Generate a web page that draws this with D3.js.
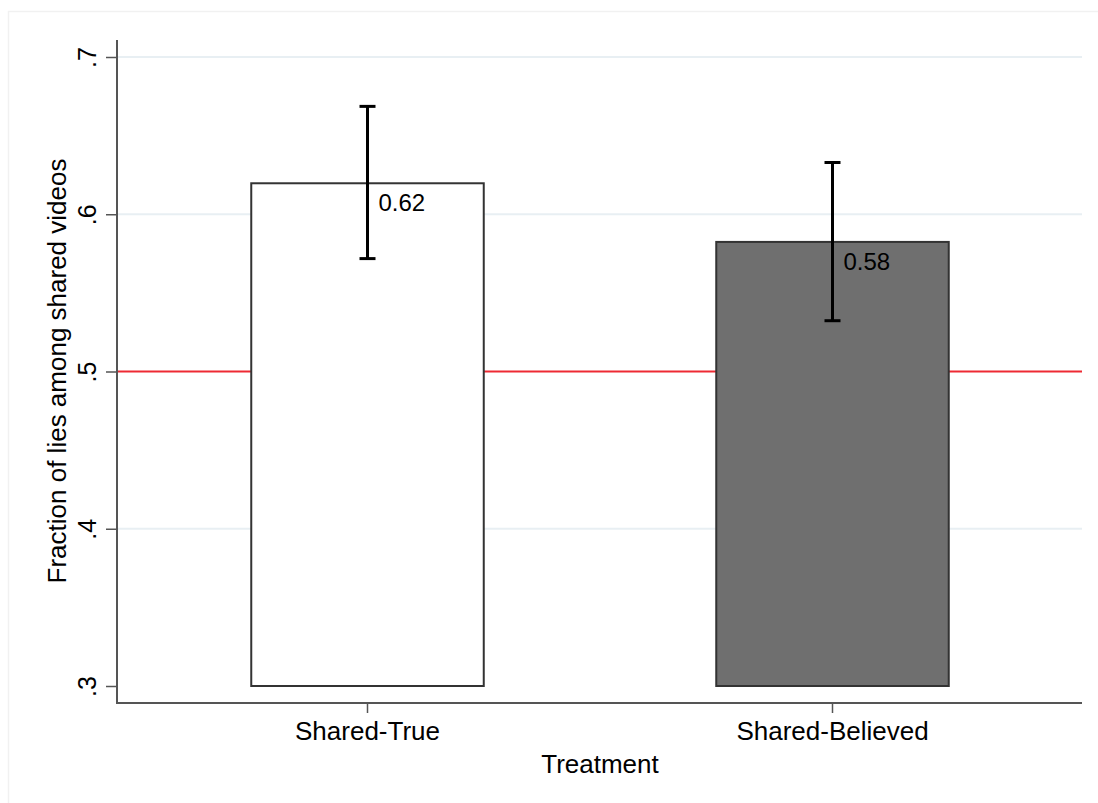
<!DOCTYPE html>
<html><head><meta charset="utf-8">
<script src="https://cdn.jsdelivr.net/npm/d3@7"></script>
<style>body{margin:0;background:#fff}svg{display:block;font-family:"Liberation Sans",Arial,Helvetica,sans-serif}</style>
</head><body>
<script>
const categories = ["Shared-True", "Shared-Believed"];
const means = [0.6197, 0.5824];
const ciLow = [0.5718, 0.5323];
const ciHigh = [0.6686, 0.6329];
const valueLabels = ["0.62", "0.58"];
const barColors = ["#ffffff", "#6f6f6f"];
const yTicks = [0.3, 0.4, 0.5, 0.6, 0.7];
const yTickLabels = [".3", ".4", ".5", ".6", ".7"];
const refValue = 0.5;

const W = 1098, H = 803;
const svg = d3.select("body").append("svg").attr("width", W).attr("height", H);

// outer faint frame
svg.append("line").attr("x1", 8.5).attr("x2", 8.5).attr("y1", 11).attr("y2", H).attr("stroke", "#f1f1f1").attr("stroke-width", 1.5);
svg.append("line").attr("x1", 8).attr("x2", W).attr("y1", 11.5).attr("y2", 11.5).attr("stroke", "#f1f1f1").attr("stroke-width", 1.5);

const left = 117, right = 1082, axisTop = 40, axisBottom = 703;
const y = d3.scaleLinear().domain([0.3, 0.7]).range([686, 57]);
const x = d3.scaleBand().domain(categories).range([135, 1065]).paddingInner(0.5).paddingOuter(0.25);

// gridlines
svg.append("g").selectAll("line").data(yTicks.filter(v => v !== 0.3 && v !== refValue)).join("line")
  .attr("x1", left).attr("x2", right).attr("y1", d => y(d)).attr("y2", d => y(d))
  .attr("stroke", "#e8eff3").attr("stroke-width", 2);

// reference line
svg.append("line").attr("x1", left).attr("x2", right).attr("y1", y(refValue)).attr("y2", y(refValue))
  .attr("stroke", "#ee2a33").attr("stroke-width", 2);

// bars
svg.append("g").selectAll("rect").data(categories).join("rect")
  .attr("x", d => x(d)).attr("width", x.bandwidth())
  .attr("y", (d, i) => y(means[i])).attr("height", (d, i) => y(0.3) - y(means[i]))
  .attr("fill", (d, i) => barColors[i]).attr("stroke", "#333").attr("stroke-width", 2);

// error bars
const eb = svg.append("g").attr("stroke", "#000").attr("stroke-width", 3);
categories.forEach((c, i) => {
  const cx = x(c) + x.bandwidth() / 2;
  eb.append("line").attr("x1", cx).attr("x2", cx).attr("y1", y(ciLow[i])).attr("y2", y(ciHigh[i]));
  eb.append("line").attr("x1", cx - 8).attr("x2", cx + 8).attr("y1", y(ciLow[i])).attr("y2", y(ciLow[i]));
  eb.append("line").attr("x1", cx - 8).attr("x2", cx + 8).attr("y1", y(ciHigh[i])).attr("y2", y(ciHigh[i]));
  svg.append("text").attr("x", cx + 11).attr("y", y(means[i]) + 28)
    .attr("font-size", 24).attr("fill", "#000").text(valueLabels[i]);
});

// y axis
const yAxis = d3.axisLeft(y).tickValues(yTicks).tickFormat((d, i) => yTickLabels[i]).tickSize(11).tickPadding(0);
const gy = svg.append("g").attr("transform", `translate(${left},0)`).call(yAxis);
gy.select(".domain").remove();
gy.selectAll(".tick line").attr("stroke", "#555").attr("stroke-width", 1.5);
gy.selectAll(".tick text").attr("transform", "translate(-21,0) rotate(-90)").attr("x", 0).attr("dy", 0)
  .attr("text-anchor", "middle").attr("font-size", 25).attr("fill", "#000").attr("font-family", "Liberation Sans, Arial, sans-serif");
svg.append("line").attr("x1", left).attr("x2", left).attr("y1", axisTop).attr("y2", axisBottom + 1).attr("stroke", "#555").attr("stroke-width", 2);

// x axis
const xAxis = d3.axisBottom(x).tickSize(10).tickPadding(7);
const gx = svg.append("g").attr("transform", `translate(0,${axisBottom})`).call(xAxis);
gx.select(".domain").remove();
gx.selectAll(".tick line").attr("stroke", "#555").attr("stroke-width", 1.5);
gx.selectAll(".tick text").attr("y", 37).attr("dy", 0).attr("font-size", 26).attr("fill", "#000").attr("font-family", "Liberation Sans, Arial, sans-serif");
svg.append("line").attr("x1", left - 1).attr("x2", right).attr("y1", axisBottom).attr("y2", axisBottom).attr("stroke", "#555").attr("stroke-width", 2);

// titles
svg.append("text").attr("x", 600).attr("y", 773).attr("text-anchor", "middle").attr("font-size", 26).attr("fill", "#000").text("Treatment");
svg.append("text").attr("transform", `translate(66,371) rotate(-90)`).attr("text-anchor", "middle").attr("font-size", 26).attr("fill", "#000").text("Fraction of lies among shared videos");
</script>
</body></html>
